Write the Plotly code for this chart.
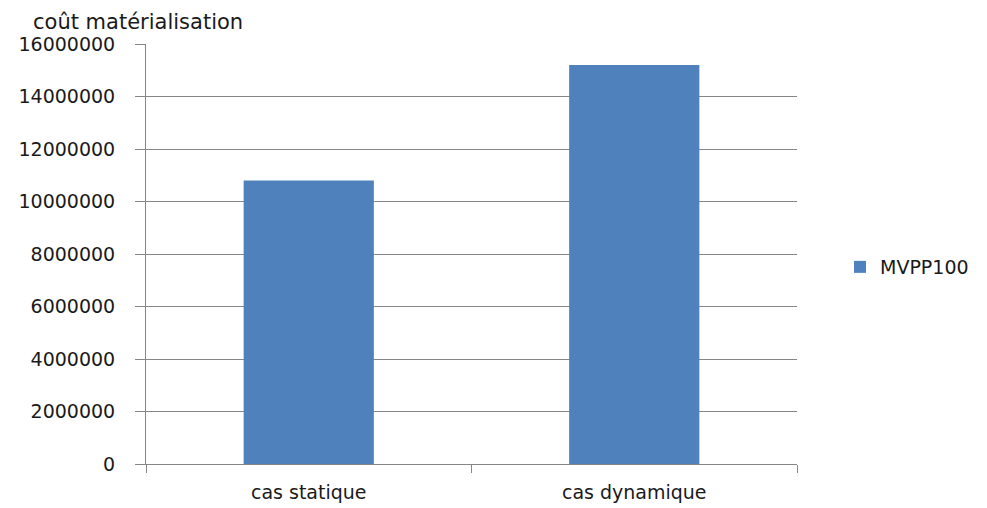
import plotly.graph_objects as go

categories = ["cas statique", "cas dynamique"]
values = [10800000, 15200000]
series_name = "MVPP100"
y_ticks = [0, 2000000, 4000000, 6000000, 8000000, 10000000, 12000000, 14000000, 16000000]
y_tick_labels = [str(v) for v in y_ticks]

W, H = 987, 508
L, R, T, B = 146, 190, 44, 44
grid = "#868686"
font = "DejaVu Sans"
txt = "#1a1a1a"

fig = go.Figure()
fig.add_trace(go.Bar(
    x=categories, y=values, name=series_name,
    marker=dict(color="#4F81BD", line=dict(width=0)),
    showlegend=True,
))

fig.update_layout(
    template="none",
    width=W, height=H,
    margin=dict(l=L, r=R, t=T, b=B, autoexpand=False),
    paper_bgcolor="white", plot_bgcolor="white",
    bargap=0.6,
    font=dict(family=font, size=19, color=txt),
    title=dict(text="coût matérialisation", xref="container", yref="container",
               x=33 / W, xanchor="left", y=1 - 22 / H, yanchor="middle",
               font=dict(family=font, size=21, color=txt)),
    showlegend=True,
    legend=dict(x=(840 - L) / (W - L - R), xanchor="left",
                y=(H - B - 267) / (H - T - B), yanchor="middle",
                font=dict(family=font, size=19, color=txt),
                itemwidth=30, bgcolor="rgba(0,0,0,0)", borderwidth=0),
)

fig.update_xaxes(
    type="category", tickson="boundaries", ticks="outside", ticklen=8,
    tickcolor=grid, tickwidth=1, showline=True, linecolor=grid, linewidth=1,
    showgrid=False, ticklabelstandoff=11, range=[-0.5, 1.5], automargin=False,
    tickfont=dict(family=font, size=19, color=txt),
)
fig.update_yaxes(
    range=[0, 16000000], tickvals=y_ticks, ticktext=y_tick_labels,
    ticks="outside", ticklen=10, tickcolor=grid, tickwidth=1,
    showline=True, linecolor=grid, linewidth=1,
    showgrid=True, gridcolor=grid, gridwidth=1, zeroline=False,
    ticklabelstandoff=16, automargin=False,
    tickfont=dict(family=font, size=19, color=txt),
)

fig.write_html("out.html", config={"displayModeBar": False},
               post_script="document.body.style.margin='0';document.body.style.padding='0';")
